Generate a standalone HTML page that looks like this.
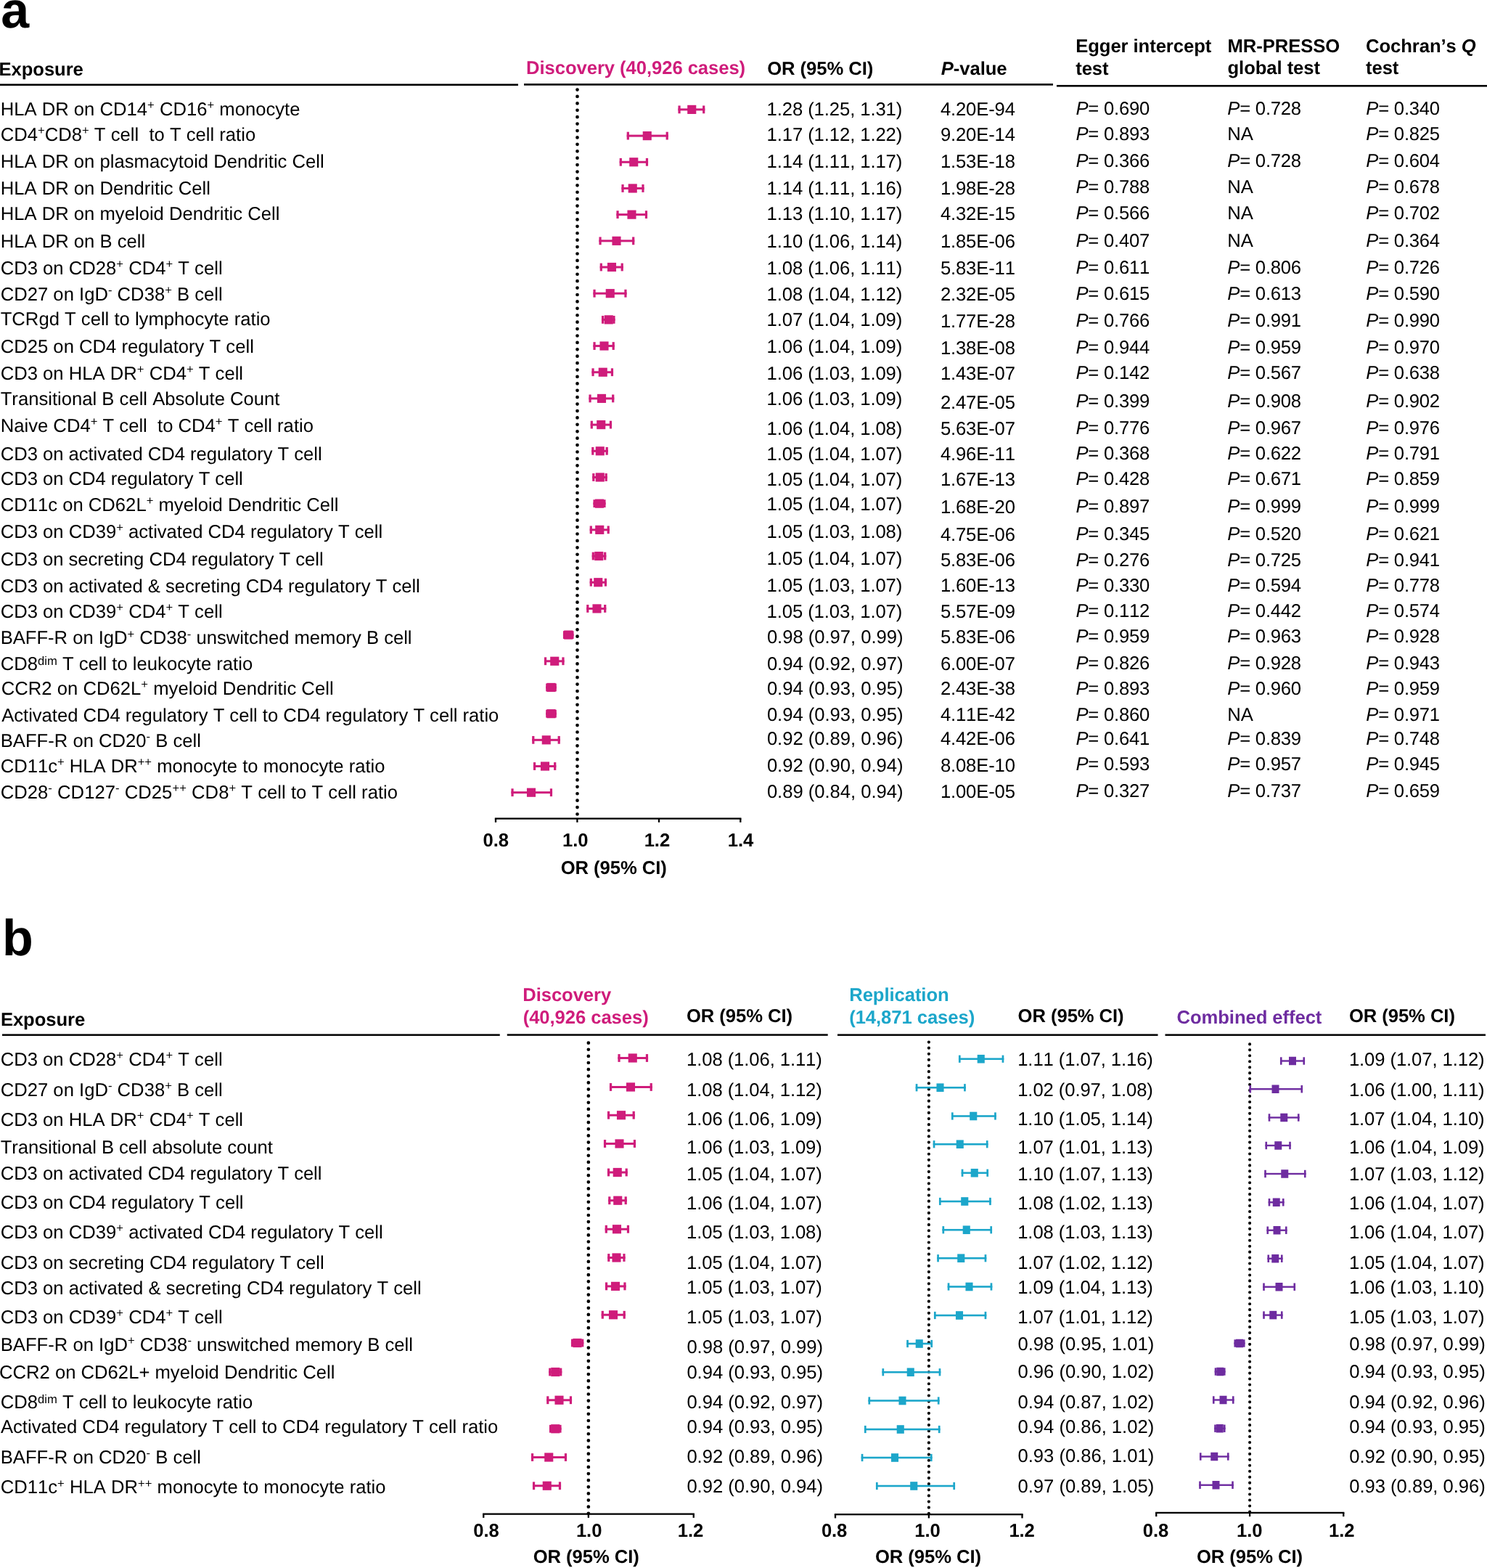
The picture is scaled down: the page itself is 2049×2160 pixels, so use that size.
<!DOCTYPE html>
<html lang="en">
<head>
<meta charset="utf-8">
<title>Forest plots</title>
<style>
html,body{margin:0;padding:0;background:#fff;}
body{width:2049px;height:2160px;overflow:hidden;}
svg{display:block;position:absolute;left:0;top:0;}
text{font-family:"Liberation Sans",sans-serif;font-size:25.65px;fill:#000;white-space:pre;font-kerning:none;text-rendering:geometricPrecision;}
.b{font-weight:bold;letter-spacing:-0.07px;}
.n{letter-spacing:-0.03px;}
.n1{letter-spacing:-0.09px;}
.p{letter-spacing:-0.22px;}
.pv{letter-spacing:-0.15px;}
.i{font-style:italic;}
.bi{font-weight:bold;font-style:italic;}
.sup{font-size:16.67px;}
.big{font-size:70px;font-weight:bold;}
</style>
</head>
<body>
<svg width="2049" height="2160" viewBox="0 0 2049 2160" role="img" aria-label="Forest plots of odds ratios">
<text x="1.20" y="37.50" class="big">a</text>
<text x="-1.50" y="104.00" class="b">Exposure</text>
<text x="725.10" y="102.40" class="b" style="fill:#CF1C7B">Discovery (40,926 cases)</text>
<text x="1057.20" y="103.30" class="b">OR (95% CI)</text>
<text x="1296.8" y="103.3" class="b"><tspan class="bi">P</tspan>-value</text>
<text x="1482.20" y="72.30" class="b">Egger intercept</text>
<text x="1482.20" y="102.70" class="b">test</text>
<text x="1691.50" y="71.80" class="b">MR-PRESSO</text>
<text x="1691.50" y="102.20" class="b">global test</text>
<text x="1882" y="71.5" class="b">Cochran’s <tspan class="bi">Q</tspan></text>
<text x="1882.00" y="101.75" class="b">test</text>
<rect x="0.00" y="115.50" width="714.00" height="2.60" fill="#000"/>
<rect x="722.00" y="115.15" width="729.00" height="2.60" fill="#000"/>
<rect x="1456.00" y="117.00" width="593.00" height="2.60" fill="#000"/>
<text x="0.70" y="158.75">HLA DR on CD14<tspan class="sup" dy="-8.72">+</tspan><tspan dy="8.72"> CD16</tspan><tspan class="sup" dy="-8.72">+</tspan><tspan dy="8.72"> monocyte</tspan></text>
<text x="1056.60" y="159.25" class="n1">1.28 (1.25, 1.31)</text>
<text x="1295.90" y="159.25" class="pv">4.20E-94</text>
<text x="1482.40" y="158.00" class="p"><tspan class="i">P</tspan>= 0.690</text>
<text x="1691.30" y="158.00" class="p"><tspan class="i">P</tspan>= 0.728</text>
<text x="1882.30" y="158.00" class="p"><tspan class="i">P</tspan>= 0.340</text>
<text x="0.70" y="193.75">CD4<tspan class="sup" dy="-8.72">+</tspan><tspan dy="8.72">CD8</tspan><tspan class="sup" dy="-8.72">+</tspan><tspan dy="8.72"> T cell  to T cell ratio</tspan></text>
<text x="1056.60" y="194.25" class="n1">1.17 (1.12, 1.22)</text>
<text x="1295.90" y="194.25" class="pv">9.20E-14</text>
<text x="1482.40" y="193.00" class="p"><tspan class="i">P</tspan>= 0.893</text>
<text x="1691.30" y="193.00">NA</text>
<text x="1882.30" y="193.00" class="p"><tspan class="i">P</tspan>= 0.825</text>
<text x="0.70" y="230.50">HLA DR on plasmacytoid Dendritic Cell</text>
<text x="1056.60" y="231.25" class="n1">1.14 (1.11, 1.17)</text>
<text x="1295.90" y="231.25" class="pv">1.53E-18</text>
<text x="1482.40" y="230.00" class="p"><tspan class="i">P</tspan>= 0.366</text>
<text x="1691.30" y="230.00" class="p"><tspan class="i">P</tspan>= 0.728</text>
<text x="1882.30" y="230.00" class="p"><tspan class="i">P</tspan>= 0.604</text>
<text x="0.70" y="267.50">HLA DR on Dendritic Cell</text>
<text x="1056.60" y="268.00" class="n1">1.14 (1.11, 1.16)</text>
<text x="1295.90" y="267.50" class="pv">1.98E-28</text>
<text x="1482.40" y="266.00" class="p"><tspan class="i">P</tspan>= 0.788</text>
<text x="1691.30" y="266.00">NA</text>
<text x="1882.30" y="266.00" class="p"><tspan class="i">P</tspan>= 0.678</text>
<text x="0.70" y="303.25">HLA DR on myeloid Dendritic Cell</text>
<text x="1056.60" y="303.00" class="n1">1.13 (1.10, 1.17)</text>
<text x="1295.90" y="303.00" class="pv">4.32E-15</text>
<text x="1482.40" y="301.50" class="p"><tspan class="i">P</tspan>= 0.566</text>
<text x="1691.30" y="301.50">NA</text>
<text x="1882.30" y="301.50" class="p"><tspan class="i">P</tspan>= 0.702</text>
<text x="0.70" y="340.50">HLA DR on B cell</text>
<text x="1056.60" y="340.50" class="n1">1.10 (1.06, 1.14)</text>
<text x="1295.90" y="340.50" class="pv">1.85E-06</text>
<text x="1482.40" y="339.75" class="p"><tspan class="i">P</tspan>= 0.407</text>
<text x="1691.30" y="339.75">NA</text>
<text x="1882.30" y="339.75" class="p"><tspan class="i">P</tspan>= 0.364</text>
<text x="0.70" y="377.50">CD3 on CD28<tspan class="sup" dy="-8.72">+</tspan><tspan dy="8.72"> CD4</tspan><tspan class="sup" dy="-8.72">+</tspan><tspan dy="8.72"> T cell</tspan></text>
<text x="1056.60" y="378.00" class="n1">1.08 (1.06, 1.11)</text>
<text x="1295.90" y="378.00" class="pv">5.83E-11</text>
<text x="1482.40" y="376.75" class="p"><tspan class="i">P</tspan>= 0.611</text>
<text x="1691.30" y="376.75" class="p"><tspan class="i">P</tspan>= 0.806</text>
<text x="1882.30" y="376.75" class="p"><tspan class="i">P</tspan>= 0.726</text>
<text x="0.70" y="413.75">CD27 on IgD<tspan class="sup" dy="-8.72">-</tspan><tspan dy="8.72"> CD38</tspan><tspan class="sup" dy="-8.72">+</tspan><tspan dy="8.72"> B cell</tspan></text>
<text x="1056.60" y="414.25" class="n1">1.08 (1.04, 1.12)</text>
<text x="1295.90" y="414.25" class="pv">2.32E-05</text>
<text x="1482.40" y="412.50" class="p"><tspan class="i">P</tspan>= 0.615</text>
<text x="1691.30" y="412.50" class="p"><tspan class="i">P</tspan>= 0.613</text>
<text x="1882.30" y="412.50" class="p"><tspan class="i">P</tspan>= 0.590</text>
<text x="0.70" y="448.25">TCRgd T cell to lymphocyte ratio</text>
<text x="1056.60" y="448.75" class="n1">1.07 (1.04, 1.09)</text>
<text x="1295.90" y="450.50" class="pv">1.77E-28</text>
<text x="1482.40" y="449.50" class="p"><tspan class="i">P</tspan>= 0.766</text>
<text x="1691.30" y="449.50" class="p"><tspan class="i">P</tspan>= 0.991</text>
<text x="1882.30" y="449.50" class="p"><tspan class="i">P</tspan>= 0.990</text>
<text x="0.70" y="485.50">CD25 on CD4 regulatory T cell</text>
<text x="1056.60" y="485.75" class="n1">1.06 (1.04, 1.09)</text>
<text x="1295.90" y="488.00" class="pv">1.38E-08</text>
<text x="1482.40" y="487.25" class="p"><tspan class="i">P</tspan>= 0.944</text>
<text x="1691.30" y="487.25" class="p"><tspan class="i">P</tspan>= 0.959</text>
<text x="1882.30" y="487.25" class="p"><tspan class="i">P</tspan>= 0.970</text>
<text x="0.70" y="523.00">CD3 on HLA DR<tspan class="sup" dy="-8.72">+</tspan><tspan dy="8.72"> CD4</tspan><tspan class="sup" dy="-8.72">+</tspan><tspan dy="8.72"> T cell</tspan></text>
<text x="1056.60" y="522.50" class="n1">1.06 (1.03, 1.09)</text>
<text x="1295.90" y="522.50" class="pv">1.43E-07</text>
<text x="1482.40" y="521.50" class="p"><tspan class="i">P</tspan>= 0.142</text>
<text x="1691.30" y="521.50" class="p"><tspan class="i">P</tspan>= 0.567</text>
<text x="1882.30" y="521.50" class="p"><tspan class="i">P</tspan>= 0.638</text>
<text x="0.70" y="557.50">Transitional B cell Absolute Count</text>
<text x="1056.60" y="558.00" class="n1">1.06 (1.03, 1.09)</text>
<text x="1295.90" y="562.75" class="pv">2.47E-05</text>
<text x="1482.40" y="560.75" class="p"><tspan class="i">P</tspan>= 0.399</text>
<text x="1691.30" y="560.75" class="p"><tspan class="i">P</tspan>= 0.908</text>
<text x="1882.30" y="560.75" class="p"><tspan class="i">P</tspan>= 0.902</text>
<text x="0.70" y="595.00">Naive CD4<tspan class="sup" dy="-8.72">+</tspan><tspan dy="8.72"> T cell  to CD4</tspan><tspan class="sup" dy="-8.72">+</tspan><tspan dy="8.72"> T cell ratio</tspan></text>
<text x="1056.60" y="599.00" class="n1">1.06 (1.04, 1.08)</text>
<text x="1295.90" y="599.00" class="pv">5.63E-07</text>
<text x="1482.40" y="598.00" class="p"><tspan class="i">P</tspan>= 0.776</text>
<text x="1691.30" y="598.00" class="p"><tspan class="i">P</tspan>= 0.967</text>
<text x="1882.30" y="598.00" class="p"><tspan class="i">P</tspan>= 0.976</text>
<text x="0.70" y="633.75" style="letter-spacing:-0.045px">CD3 on activated CD4 regulatory T cell</text>
<text x="1056.60" y="634.00" class="n1">1.05 (1.04, 1.07)</text>
<text x="1295.90" y="634.00" class="pv">4.96E-11</text>
<text x="1482.40" y="633.25" class="p"><tspan class="i">P</tspan>= 0.368</text>
<text x="1691.30" y="633.25" class="p"><tspan class="i">P</tspan>= 0.622</text>
<text x="1882.30" y="633.25" class="p"><tspan class="i">P</tspan>= 0.791</text>
<text x="0.70" y="668.25" style="letter-spacing:-0.030px">CD3 on CD4 regulatory T cell</text>
<text x="1056.60" y="669.00" class="n1">1.05 (1.04, 1.07)</text>
<text x="1295.90" y="669.00" class="pv">1.67E-13</text>
<text x="1482.40" y="668.00" class="p"><tspan class="i">P</tspan>= 0.428</text>
<text x="1691.30" y="668.00" class="p"><tspan class="i">P</tspan>= 0.671</text>
<text x="1882.30" y="668.00" class="p"><tspan class="i">P</tspan>= 0.859</text>
<text x="0.70" y="703.75">CD11c on CD62L<tspan class="sup" dy="-8.72">+</tspan><tspan dy="8.72"> myeloid Dendritic Cell</tspan></text>
<text x="1056.60" y="703.25" class="n1">1.05 (1.04, 1.07)</text>
<text x="1295.90" y="706.50" class="pv">1.68E-20</text>
<text x="1482.40" y="705.50" class="p"><tspan class="i">P</tspan>= 0.897</text>
<text x="1691.30" y="705.50" class="p"><tspan class="i">P</tspan>= 0.999</text>
<text x="1882.30" y="705.50" class="p"><tspan class="i">P</tspan>= 0.999</text>
<text x="0.70" y="740.50" style="letter-spacing:-0.015px">CD3 on CD39<tspan class="sup" dy="-8.72">+</tspan><tspan dy="8.72"> activated CD4 regulatory T cell</tspan></text>
<text x="1056.60" y="740.75" class="n1">1.05 (1.03, 1.08)</text>
<text x="1295.90" y="744.50" class="pv">4.75E-06</text>
<text x="1482.40" y="743.75" class="p"><tspan class="i">P</tspan>= 0.345</text>
<text x="1691.30" y="743.75" class="p"><tspan class="i">P</tspan>= 0.520</text>
<text x="1882.30" y="743.75" class="p"><tspan class="i">P</tspan>= 0.621</text>
<text x="0.70" y="778.50" style="letter-spacing:-0.030px">CD3 on secreting CD4 regulatory T cell</text>
<text x="1056.60" y="777.75" class="n1">1.05 (1.04, 1.07)</text>
<text x="1295.90" y="780.25" class="pv">5.83E-06</text>
<text x="1482.40" y="780.00" class="p"><tspan class="i">P</tspan>= 0.276</text>
<text x="1691.30" y="780.00" class="p"><tspan class="i">P</tspan>= 0.725</text>
<text x="1882.30" y="780.00" class="p"><tspan class="i">P</tspan>= 0.941</text>
<text x="0.70" y="815.50" style="letter-spacing:-0.040px">CD3 on activated &amp; secreting CD4 regulatory T cell</text>
<text x="1056.60" y="815.25" class="n1">1.05 (1.03, 1.07)</text>
<text x="1295.90" y="815.25" class="pv">1.60E-13</text>
<text x="1482.40" y="815.00" class="p"><tspan class="i">P</tspan>= 0.330</text>
<text x="1691.30" y="815.00" class="p"><tspan class="i">P</tspan>= 0.594</text>
<text x="1882.30" y="815.00" class="p"><tspan class="i">P</tspan>= 0.778</text>
<text x="0.70" y="851.00">CD3 on CD39<tspan class="sup" dy="-8.72">+</tspan><tspan dy="8.72"> CD4</tspan><tspan class="sup" dy="-8.72">+</tspan><tspan dy="8.72"> T cell</tspan></text>
<text x="1056.60" y="850.75" class="n1">1.05 (1.03, 1.07)</text>
<text x="1295.90" y="850.75" class="pv">5.57E-09</text>
<text x="1482.40" y="850.00" class="p"><tspan class="i">P</tspan>= 0.112</text>
<text x="1691.30" y="850.00" class="p"><tspan class="i">P</tspan>= 0.442</text>
<text x="1882.30" y="850.00" class="p"><tspan class="i">P</tspan>= 0.574</text>
<text x="0.70" y="887.45" style="letter-spacing:-0.030px">BAFF-R on IgD<tspan class="sup" dy="-8.72">+</tspan><tspan dy="8.72"> CD38</tspan><tspan class="sup" dy="-8.72">-</tspan><tspan dy="8.72"> unswitched memory B cell</tspan></text>
<text x="1056.90" y="885.75" class="n">0.98 (0.97, 0.99)</text>
<text x="1295.90" y="885.75" class="pv">5.83E-06</text>
<text x="1482.40" y="885.00" class="p"><tspan class="i">P</tspan>= 0.959</text>
<text x="1691.30" y="885.00" class="p"><tspan class="i">P</tspan>= 0.963</text>
<text x="1882.30" y="885.00" class="p"><tspan class="i">P</tspan>= 0.928</text>
<text x="0.70" y="923.00">CD8<tspan class="sup" dy="-6.80">dim</tspan><tspan dy="6.80"> T cell to leukocyte ratio</tspan></text>
<text x="1056.90" y="922.75" class="n">0.94 (0.92, 0.97)</text>
<text x="1295.90" y="922.75" class="pv">6.00E-07</text>
<text x="1482.40" y="922.00" class="p"><tspan class="i">P</tspan>= 0.826</text>
<text x="1691.30" y="922.00" class="p"><tspan class="i">P</tspan>= 0.928</text>
<text x="1882.30" y="922.00" class="p"><tspan class="i">P</tspan>= 0.943</text>
<text x="1.70" y="956.75" style="letter-spacing:0.020px">CCR2 on CD62L<tspan class="sup" dy="-8.72">+</tspan><tspan dy="8.72"> myeloid Dendritic Cell</tspan></text>
<text x="1056.90" y="956.50" class="n">0.94 (0.93, 0.95)</text>
<text x="1295.90" y="956.50" class="pv">2.43E-38</text>
<text x="1482.40" y="957.00" class="p"><tspan class="i">P</tspan>= 0.893</text>
<text x="1691.30" y="957.00" class="p"><tspan class="i">P</tspan>= 0.960</text>
<text x="1882.30" y="957.00" class="p"><tspan class="i">P</tspan>= 0.959</text>
<text x="2.20" y="994.00" style="letter-spacing:-0.028px">Activated CD4 regulatory T cell to CD4 regulatory T cell ratio</text>
<text x="1056.90" y="993.25" class="n">0.94 (0.93, 0.95)</text>
<text x="1295.90" y="993.25" class="pv">4.11E-42</text>
<text x="1482.40" y="992.50" class="p"><tspan class="i">P</tspan>= 0.860</text>
<text x="1691.30" y="992.50">NA</text>
<text x="1882.30" y="992.50" class="p"><tspan class="i">P</tspan>= 0.971</text>
<text x="0.70" y="1029.00">BAFF-R on CD20<tspan class="sup" dy="-8.72">-</tspan><tspan dy="8.72"> B cell</tspan></text>
<text x="1056.90" y="1026.25" class="n">0.92 (0.89, 0.96)</text>
<text x="1295.90" y="1026.25" class="pv">4.42E-06</text>
<text x="1482.40" y="1025.50" class="p"><tspan class="i">P</tspan>= 0.641</text>
<text x="1691.30" y="1025.50" class="p"><tspan class="i">P</tspan>= 0.839</text>
<text x="1882.30" y="1025.50" class="p"><tspan class="i">P</tspan>= 0.748</text>
<text x="0.70" y="1063.70" style="letter-spacing:-0.025px">CD11c<tspan class="sup" dy="-8.72">+</tspan><tspan dy="8.72"> HLA DR</tspan><tspan class="sup" dy="-8.72">++</tspan><tspan dy="8.72"> monocyte to monocyte ratio</tspan></text>
<text x="1056.90" y="1062.50" class="n">0.92 (0.90, 0.94)</text>
<text x="1295.90" y="1062.50" class="pv">8.08E-10</text>
<text x="1482.40" y="1061.25" class="p"><tspan class="i">P</tspan>= 0.593</text>
<text x="1691.30" y="1061.25" class="p"><tspan class="i">P</tspan>= 0.957</text>
<text x="1882.30" y="1061.25" class="p"><tspan class="i">P</tspan>= 0.945</text>
<text x="0.70" y="1099.95" style="letter-spacing:0.025px">CD28<tspan class="sup" dy="-8.72">-</tspan><tspan dy="8.72"> CD127</tspan><tspan class="sup" dy="-8.72">-</tspan><tspan dy="8.72"> CD25</tspan><tspan class="sup" dy="-8.72">++</tspan><tspan dy="8.72"> CD8</tspan><tspan class="sup" dy="-8.72">+</tspan><tspan dy="8.72"> T cell to T cell ratio</tspan></text>
<text x="1056.90" y="1098.75" class="n">0.89 (0.84, 0.94)</text>
<text x="1295.90" y="1098.75" class="pv">1.00E-05</text>
<text x="1482.40" y="1098.25" class="p"><tspan class="i">P</tspan>= 0.327</text>
<text x="1691.30" y="1098.25" class="p"><tspan class="i">P</tspan>= 0.737</text>
<text x="1882.30" y="1098.25" class="p"><tspan class="i">P</tspan>= 0.659</text>
<line x1="795.50" y1="123.55" x2="795.50" y2="1121.51" stroke="#000" stroke-width="4.70" stroke-linecap="round" stroke-dasharray="0 9.4146"/>
<g fill="#CF1C7B"><rect x="934.45" y="149.40" width="36.85" height="3.00"/><rect x="934.45" y="145.50" width="3.20" height="10.80"/><rect x="968.10" y="145.50" width="3.20" height="10.80"/><rect x="947.20" y="144.80" width="12.10" height="12.20"/></g>
<g fill="#CF1C7B"><rect x="863.70" y="185.59" width="57.10" height="3.00"/><rect x="863.70" y="181.69" width="3.20" height="10.80"/><rect x="917.60" y="181.69" width="3.20" height="10.80"/><rect x="885.70" y="180.99" width="12.10" height="12.20"/></g>
<g fill="#CF1C7B"><rect x="853.70" y="221.77" width="39.35" height="3.00"/><rect x="853.70" y="217.87" width="3.20" height="10.80"/><rect x="889.85" y="217.87" width="3.20" height="10.80"/><rect x="867.20" y="217.17" width="12.10" height="12.20"/></g>
<g fill="#CF1C7B"><rect x="856.45" y="257.96" width="31.10" height="3.00"/><rect x="856.45" y="254.06" width="3.20" height="10.80"/><rect x="884.35" y="254.06" width="3.20" height="10.80"/><rect x="865.70" y="253.36" width="12.10" height="12.20"/></g>
<g fill="#CF1C7B"><rect x="849.45" y="294.14" width="42.60" height="3.00"/><rect x="849.45" y="290.24" width="3.20" height="10.80"/><rect x="888.85" y="290.24" width="3.20" height="10.80"/><rect x="864.45" y="289.54" width="12.10" height="12.20"/></g>
<g fill="#CF1C7B"><rect x="825.45" y="330.33" width="48.85" height="3.00"/><rect x="825.45" y="326.43" width="3.20" height="10.80"/><rect x="871.10" y="326.43" width="3.20" height="10.80"/><rect x="843.45" y="325.73" width="12.10" height="12.20"/></g>
<g fill="#CF1C7B"><rect x="826.70" y="366.51" width="32.10" height="3.00"/><rect x="826.70" y="362.61" width="3.20" height="10.80"/><rect x="855.60" y="362.61" width="3.20" height="10.80"/><rect x="836.95" y="361.91" width="12.10" height="12.20"/></g>
<g fill="#CF1C7B"><rect x="817.45" y="402.70" width="46.10" height="3.00"/><rect x="817.45" y="398.80" width="3.20" height="10.80"/><rect x="860.35" y="398.80" width="3.20" height="10.80"/><rect x="834.70" y="398.10" width="12.10" height="12.20"/></g>
<g fill="#CF1C7B"><rect x="828.95" y="438.88" width="18.60" height="3.00"/><rect x="828.95" y="434.98" width="3.20" height="10.80"/><rect x="844.35" y="434.98" width="3.20" height="10.80"/><rect x="832.70" y="434.28" width="12.10" height="12.20"/></g>
<g fill="#CF1C7B"><rect x="817.45" y="475.07" width="29.35" height="3.00"/><rect x="817.45" y="471.17" width="3.20" height="10.80"/><rect x="843.60" y="471.17" width="3.20" height="10.80"/><rect x="826.45" y="470.47" width="12.10" height="12.20"/></g>
<g fill="#CF1C7B"><rect x="815.45" y="511.25" width="29.60" height="3.00"/><rect x="815.45" y="507.35" width="3.20" height="10.80"/><rect x="841.85" y="507.35" width="3.20" height="10.80"/><rect x="824.70" y="506.65" width="12.10" height="12.20"/></g>
<g fill="#CF1C7B"><rect x="811.45" y="547.44" width="34.85" height="3.00"/><rect x="811.45" y="543.54" width="3.20" height="10.80"/><rect x="843.10" y="543.54" width="3.20" height="10.80"/><rect x="822.95" y="542.84" width="12.10" height="12.20"/></g>
<g fill="#CF1C7B"><rect x="813.70" y="583.62" width="29.35" height="3.00"/><rect x="813.70" y="579.72" width="3.20" height="10.80"/><rect x="839.85" y="579.72" width="3.20" height="10.80"/><rect x="822.20" y="579.02" width="12.10" height="12.20"/></g>
<g fill="#CF1C7B"><rect x="815.20" y="619.81" width="22.60" height="3.00"/><rect x="815.20" y="615.91" width="3.20" height="10.80"/><rect x="834.60" y="615.91" width="3.20" height="10.80"/><rect x="820.70" y="615.21" width="12.10" height="12.20"/></g>
<g fill="#CF1C7B"><rect x="816.20" y="655.99" width="20.60" height="3.00"/><rect x="816.20" y="652.09" width="3.20" height="10.80"/><rect x="833.60" y="652.09" width="3.20" height="10.80"/><rect x="820.70" y="651.39" width="12.10" height="12.20"/></g>
<g fill="#CF1C7B"><rect x="817.45" y="692.18" width="17.10" height="3.00"/><rect x="817.45" y="688.28" width="3.20" height="10.80"/><rect x="831.35" y="688.28" width="3.20" height="10.80"/><rect x="819.95" y="687.58" width="12.10" height="12.20"/></g>
<g fill="#CF1C7B"><rect x="812.70" y="728.36" width="27.10" height="3.00"/><rect x="812.70" y="724.46" width="3.20" height="10.80"/><rect x="836.60" y="724.46" width="3.20" height="10.80"/><rect x="820.20" y="723.76" width="12.10" height="12.20"/></g>
<g fill="#CF1C7B"><rect x="815.70" y="764.54" width="19.60" height="3.00"/><rect x="815.70" y="760.64" width="3.20" height="10.80"/><rect x="832.10" y="760.64" width="3.20" height="10.80"/><rect x="819.20" y="759.94" width="12.10" height="12.20"/></g>
<g fill="#CF1C7B"><rect x="812.70" y="800.73" width="23.35" height="3.00"/><rect x="812.70" y="796.83" width="3.20" height="10.80"/><rect x="832.85" y="796.83" width="3.20" height="10.80"/><rect x="818.20" y="796.13" width="12.10" height="12.20"/></g>
<g fill="#CF1C7B"><rect x="808.20" y="836.92" width="27.10" height="3.00"/><rect x="808.20" y="833.02" width="3.20" height="10.80"/><rect x="832.10" y="833.02" width="3.20" height="10.80"/><rect x="816.45" y="832.32" width="12.10" height="12.20"/></g>
<g fill="#CF1C7B"><rect x="775.95" y="873.10" width="14.60" height="3.00"/><rect x="775.95" y="869.20" width="3.20" height="10.80"/><rect x="787.35" y="869.20" width="3.20" height="10.80"/><rect x="777.20" y="868.50" width="12.10" height="12.20"/></g>
<g fill="#CF1C7B"><rect x="749.95" y="909.28" width="27.60" height="3.00"/><rect x="749.95" y="905.38" width="3.20" height="10.80"/><rect x="774.35" y="905.38" width="3.20" height="10.80"/><rect x="758.20" y="904.68" width="12.10" height="12.20"/></g>
<g fill="#CF1C7B"><rect x="752.20" y="945.47" width="14.60" height="3.00"/><rect x="752.20" y="941.57" width="3.20" height="10.80"/><rect x="763.60" y="941.57" width="3.20" height="10.80"/><rect x="753.45" y="940.87" width="12.10" height="12.20"/></g>
<g fill="#CF1C7B"><rect x="752.20" y="981.66" width="14.60" height="3.00"/><rect x="752.20" y="977.76" width="3.20" height="10.80"/><rect x="763.60" y="977.76" width="3.20" height="10.80"/><rect x="753.45" y="977.06" width="12.10" height="12.20"/></g>
<g fill="#CF1C7B"><rect x="733.20" y="1017.84" width="38.60" height="3.00"/><rect x="733.20" y="1013.94" width="3.20" height="10.80"/><rect x="768.60" y="1013.94" width="3.20" height="10.80"/><rect x="746.70" y="1013.24" width="12.10" height="12.20"/></g>
<g fill="#CF1C7B"><rect x="734.95" y="1054.03" width="31.35" height="3.00"/><rect x="734.95" y="1050.12" width="3.20" height="10.80"/><rect x="763.10" y="1050.12" width="3.20" height="10.80"/><rect x="744.95" y="1049.43" width="12.10" height="12.20"/></g>
<g fill="#CF1C7B"><rect x="704.45" y="1090.21" width="56.60" height="3.00"/><rect x="704.45" y="1086.31" width="3.20" height="10.80"/><rect x="757.85" y="1086.31" width="3.20" height="10.80"/><rect x="725.95" y="1085.61" width="12.10" height="12.20"/></g>
<rect x="681.85" y="1126.50" width="339.60" height="2.30" fill="#000"/>
<rect x="681.85" y="1127.65" width="2.30" height="5.20" fill="#000"/>
<text x="683.20" y="1166.10" class="b" text-anchor="middle">0.8</text>
<rect x="794.25" y="1127.65" width="2.30" height="5.20" fill="#000"/>
<text x="792.80" y="1166.10" class="b" text-anchor="middle">1.0</text>
<rect x="906.85" y="1127.65" width="2.30" height="5.20" fill="#000"/>
<text x="905.40" y="1166.10" class="b" text-anchor="middle">1.2</text>
<rect x="1019.15" y="1127.65" width="2.30" height="5.20" fill="#000"/>
<text x="1020.50" y="1166.10" class="b" text-anchor="middle">1.4</text>
<text x="845.70" y="1203.75" class="b" text-anchor="middle">OR (95% CI)</text>
<text x="2.90" y="1316.40" class="big">b</text>
<text x="0.90" y="1412.50" class="b">Exposure</text>
<text x="720.20" y="1378.75" class="b" style="fill:#CF1C7B">Discovery</text>
<text x="720.70" y="1409.50" class="b" style="fill:#CF1C7B">(40,926 cases)</text>
<text x="946.00" y="1407.50" class="b">OR (95% CI)</text>
<text x="1170.20" y="1378.75" class="b" style="fill:#1CA6CA">Replication</text>
<text x="1170.20" y="1409.50" class="b" style="fill:#1CA6CA">(14,871 cases)</text>
<text x="1402.60" y="1407.50" class="b">OR (95% CI)</text>
<text x="1621.50" y="1409.50" class="b" style="fill:#6E2CA0">Combined effect</text>
<text x="1858.90" y="1407.50" class="b">OR (95% CI)</text>
<rect x="3.00" y="1424.45" width="685.75" height="2.50" fill="#000"/>
<rect x="698.75" y="1424.35" width="441.95" height="2.50" fill="#000"/>
<rect x="1154.00" y="1424.45" width="441.50" height="2.50" fill="#000"/>
<rect x="1605.50" y="1424.45" width="441.50" height="2.50" fill="#000"/>
<text x="0.70" y="1467.50">CD3 on CD28<tspan class="sup" dy="-8.72">+</tspan><tspan dy="8.72"> CD4</tspan><tspan class="sup" dy="-8.72">+</tspan><tspan dy="8.72"> T cell</tspan></text>
<text x="946.10" y="1467.50" class="n1">1.08 (1.06, 1.11)</text>
<text x="1402.20" y="1467.50" class="n1">1.11 (1.07, 1.16)</text>
<text x="1858.90" y="1467.50" class="n1">1.09 (1.07, 1.12)</text>
<text x="0.70" y="1509.50">CD27 on IgD<tspan class="sup" dy="-8.72">-</tspan><tspan dy="8.72"> CD38</tspan><tspan class="sup" dy="-8.72">+</tspan><tspan dy="8.72"> B cell</tspan></text>
<text x="946.10" y="1510.00" class="n1">1.08 (1.04, 1.12)</text>
<text x="1402.20" y="1510.00" class="n1">1.02 (0.97, 1.08)</text>
<text x="1858.90" y="1510.00" class="n1">1.06 (1.00, 1.11)</text>
<text x="0.70" y="1550.75">CD3 on HLA DR<tspan class="sup" dy="-8.72">+</tspan><tspan dy="8.72"> CD4</tspan><tspan class="sup" dy="-8.72">+</tspan><tspan dy="8.72"> T cell</tspan></text>
<text x="946.10" y="1550.00" class="n1">1.06 (1.06, 1.09)</text>
<text x="1402.20" y="1550.00" class="n1">1.10 (1.05, 1.14)</text>
<text x="1858.90" y="1550.00" class="n1">1.07 (1.04, 1.10)</text>
<text x="0.70" y="1588.75" style="letter-spacing:-0.035px">Transitional B cell absolute count</text>
<text x="946.10" y="1588.75" class="n1">1.06 (1.03, 1.09)</text>
<text x="1402.20" y="1588.75" class="n1">1.07 (1.01, 1.13)</text>
<text x="1858.90" y="1588.75" class="n1">1.06 (1.04, 1.09)</text>
<text x="0.70" y="1625.00" style="letter-spacing:-0.050px">CD3 on activated CD4 regulatory T cell</text>
<text x="946.10" y="1625.75" class="n1">1.05 (1.04, 1.07)</text>
<text x="1402.20" y="1625.75" class="n1">1.10 (1.07, 1.13)</text>
<text x="1858.90" y="1625.75" class="n1">1.07 (1.03, 1.12)</text>
<text x="0.70" y="1665.00">CD3 on CD4 regulatory T cell</text>
<text x="946.10" y="1665.50" class="n1">1.06 (1.04, 1.07)</text>
<text x="1402.20" y="1665.50" class="n1">1.08 (1.02, 1.13)</text>
<text x="1858.90" y="1665.50" class="n1">1.06 (1.04, 1.07)</text>
<text x="0.70" y="1705.50">CD3 on CD39<tspan class="sup" dy="-8.72">+</tspan><tspan dy="8.72"> activated CD4 regulatory T cell</tspan></text>
<text x="946.10" y="1705.50" class="n1">1.05 (1.03, 1.08)</text>
<text x="1402.20" y="1705.50" class="n1">1.08 (1.03, 1.13)</text>
<text x="1858.90" y="1705.50" class="n1">1.06 (1.04, 1.07)</text>
<text x="0.70" y="1747.50">CD3 on secreting CD4 regulatory T cell</text>
<text x="946.10" y="1747.50" class="n1">1.05 (1.04, 1.07)</text>
<text x="1402.20" y="1747.50" class="n1">1.07 (1.02, 1.12)</text>
<text x="1858.90" y="1747.50" class="n1">1.05 (1.04, 1.07)</text>
<text x="0.70" y="1782.50">CD3 on activated &amp; secreting CD4 regulatory T cell</text>
<text x="946.10" y="1782.25" class="n1">1.05 (1.03, 1.07)</text>
<text x="1402.20" y="1782.25" class="n1">1.09 (1.04, 1.13)</text>
<text x="1858.90" y="1782.25" class="n1">1.06 (1.03, 1.10)</text>
<text x="0.70" y="1823.00">CD3 on CD39<tspan class="sup" dy="-8.72">+</tspan><tspan dy="8.72"> CD4</tspan><tspan class="sup" dy="-8.72">+</tspan><tspan dy="8.72"> T cell</tspan></text>
<text x="946.10" y="1822.50" class="n1">1.05 (1.03, 1.07)</text>
<text x="1402.20" y="1822.50" class="n1">1.07 (1.01, 1.12)</text>
<text x="1858.90" y="1822.50" class="n1">1.05 (1.03, 1.07)</text>
<text x="0.70" y="1860.50">BAFF-R on IgD<tspan class="sup" dy="-8.72">+</tspan><tspan dy="8.72"> CD38</tspan><tspan class="sup" dy="-8.72">-</tspan><tspan dy="8.72"> unswitched memory B cell</tspan></text>
<text x="946.40" y="1863.75" class="n">0.98 (0.97, 0.99)</text>
<text x="1402.50" y="1860.00" class="n">0.98 (0.95, 1.01)</text>
<text x="1859.20" y="1860.00" class="n">0.98 (0.97, 0.99)</text>
<text x="-1.00" y="1898.75">CCR2 on CD62L+ myeloid Dendritic Cell</text>
<text x="946.40" y="1898.75" class="n">0.94 (0.93, 0.95)</text>
<text x="1402.50" y="1898.00" class="n">0.96 (0.90, 1.02)</text>
<text x="1859.20" y="1898.00" class="n">0.94 (0.93, 0.95)</text>
<text x="0.70" y="1939.50">CD8<tspan class="sup" dy="-6.80">dim</tspan><tspan dy="6.80"> T cell to leukocyte ratio</tspan></text>
<text x="946.40" y="1939.50" class="n">0.94 (0.92, 0.97)</text>
<text x="1402.50" y="1939.50" class="n">0.94 (0.87, 1.02)</text>
<text x="1859.20" y="1939.50" class="n">0.94 (0.92, 0.96)</text>
<text x="1.00" y="1973.85" style="letter-spacing:-0.028px">Activated CD4 regulatory T cell to CD4 regulatory T cell ratio</text>
<text x="946.40" y="1973.75" class="n">0.94 (0.93, 0.95)</text>
<text x="1402.50" y="1973.75" class="n">0.94 (0.86, 1.02)</text>
<text x="1859.20" y="1973.75" class="n">0.94 (0.93, 0.95)</text>
<text x="0.70" y="2015.60">BAFF-R on CD20<tspan class="sup" dy="-8.72">-</tspan><tspan dy="8.72"> B cell</tspan></text>
<text x="946.40" y="2015.00" class="n">0.92 (0.89, 0.96)</text>
<text x="1402.50" y="2013.75" class="n">0.93 (0.86, 1.01)</text>
<text x="1859.20" y="2015.00" class="n">0.92 (0.90, 0.95)</text>
<text x="0.70" y="2057.35">CD11c<tspan class="sup" dy="-8.72">+</tspan><tspan dy="8.72"> HLA DR</tspan><tspan class="sup" dy="-8.72">++</tspan><tspan dy="8.72"> monocyte to monocyte ratio</tspan></text>
<text x="946.40" y="2056.25" class="n">0.92 (0.90, 0.94)</text>
<text x="1402.50" y="2056.25" class="n">0.97 (0.89, 1.05)</text>
<text x="1859.20" y="2056.25" class="n">0.93 (0.89, 0.96)</text>
<line x1="810.85" y1="1436.63" x2="810.85" y2="2084.81" stroke="#000" stroke-width="4.70" stroke-linecap="round" stroke-dasharray="0 9.1292"/>
<g fill="#CF1C7B"><rect x="851.45" y="1456.00" width="41.60" height="3.00"/><rect x="851.45" y="1452.10" width="3.20" height="10.80"/><rect x="889.85" y="1452.10" width="3.20" height="10.80"/><rect x="865.70" y="1451.40" width="12.10" height="12.20"/></g>
<g fill="#CF1C7B"><rect x="839.95" y="1496.00" width="58.85" height="3.00"/><rect x="839.95" y="1492.10" width="3.20" height="10.80"/><rect x="895.60" y="1492.10" width="3.20" height="10.80"/><rect x="862.95" y="1491.40" width="12.10" height="12.20"/></g>
<g fill="#CF1C7B"><rect x="836.95" y="1534.75" width="37.85" height="3.00"/><rect x="836.95" y="1530.85" width="3.20" height="10.80"/><rect x="871.60" y="1530.85" width="3.20" height="10.80"/><rect x="849.95" y="1530.15" width="12.10" height="12.20"/></g>
<g fill="#CF1C7B"><rect x="831.95" y="1574.00" width="44.10" height="3.00"/><rect x="831.95" y="1570.10" width="3.20" height="10.80"/><rect x="872.85" y="1570.10" width="3.20" height="10.80"/><rect x="847.45" y="1569.40" width="12.10" height="12.20"/></g>
<g fill="#CF1C7B"><rect x="836.95" y="1613.50" width="27.85" height="3.00"/><rect x="836.95" y="1609.60" width="3.20" height="10.80"/><rect x="861.60" y="1609.60" width="3.20" height="10.80"/><rect x="844.70" y="1608.90" width="12.10" height="12.20"/></g>
<g fill="#CF1C7B"><rect x="838.20" y="1652.25" width="25.60" height="3.00"/><rect x="838.20" y="1648.35" width="3.20" height="10.80"/><rect x="860.60" y="1648.35" width="3.20" height="10.80"/><rect x="845.20" y="1647.65" width="12.10" height="12.20"/></g>
<g fill="#CF1C7B"><rect x="833.70" y="1691.75" width="33.35" height="3.00"/><rect x="833.70" y="1687.85" width="3.20" height="10.80"/><rect x="863.85" y="1687.85" width="3.20" height="10.80"/><rect x="843.95" y="1687.15" width="12.10" height="12.20"/></g>
<g fill="#CF1C7B"><rect x="837.20" y="1731.00" width="24.35" height="3.00"/><rect x="837.20" y="1727.10" width="3.20" height="10.80"/><rect x="858.35" y="1727.10" width="3.20" height="10.80"/><rect x="843.45" y="1726.40" width="12.10" height="12.20"/></g>
<g fill="#CF1C7B"><rect x="833.95" y="1770.40" width="28.60" height="3.00"/><rect x="833.95" y="1766.50" width="3.20" height="10.80"/><rect x="859.35" y="1766.50" width="3.20" height="10.80"/><rect x="841.95" y="1765.80" width="12.10" height="12.20"/></g>
<g fill="#CF1C7B"><rect x="828.70" y="1809.75" width="33.10" height="3.00"/><rect x="828.70" y="1805.85" width="3.20" height="10.80"/><rect x="858.60" y="1805.85" width="3.20" height="10.80"/><rect x="838.95" y="1805.15" width="12.10" height="12.20"/></g>
<g fill="#CF1C7B"><rect x="786.95" y="1848.50" width="17.35" height="3.00"/><rect x="786.95" y="1844.60" width="3.20" height="10.80"/><rect x="801.10" y="1844.60" width="3.20" height="10.80"/><rect x="789.45" y="1843.90" width="12.10" height="12.20"/></g>
<g fill="#CF1C7B"><rect x="756.20" y="1888.50" width="18.10" height="3.00"/><rect x="756.20" y="1884.60" width="3.20" height="10.80"/><rect x="771.10" y="1884.60" width="3.20" height="10.80"/><rect x="759.20" y="1883.90" width="12.10" height="12.20"/></g>
<g fill="#CF1C7B"><rect x="753.20" y="1927.25" width="34.85" height="3.00"/><rect x="753.20" y="1923.35" width="3.20" height="10.80"/><rect x="784.85" y="1923.35" width="3.20" height="10.80"/><rect x="764.45" y="1922.65" width="12.10" height="12.20"/></g>
<g fill="#CF1C7B"><rect x="756.95" y="1966.75" width="16.60" height="3.00"/><rect x="756.95" y="1962.85" width="3.20" height="10.80"/><rect x="770.35" y="1962.85" width="3.20" height="10.80"/><rect x="759.20" y="1962.15" width="12.10" height="12.20"/></g>
<g fill="#CF1C7B"><rect x="731.95" y="2006.00" width="49.10" height="3.00"/><rect x="731.95" y="2002.10" width="3.20" height="10.80"/><rect x="777.85" y="2002.10" width="3.20" height="10.80"/><rect x="750.20" y="2001.40" width="12.10" height="12.20"/></g>
<g fill="#CF1C7B"><rect x="733.95" y="2045.25" width="39.10" height="3.00"/><rect x="733.95" y="2041.35" width="3.20" height="10.80"/><rect x="769.85" y="2041.35" width="3.20" height="10.80"/><rect x="747.70" y="2040.65" width="12.10" height="12.20"/></g>
<rect x="665.10" y="2084.48" width="291.80" height="2.30" fill="#000"/>
<rect x="665.10" y="2085.63" width="2.30" height="5.20" fill="#000"/>
<text x="670.05" y="2116.65" class="b" text-anchor="middle">0.8</text>
<rect x="809.70" y="2085.63" width="2.30" height="5.20" fill="#000"/>
<text x="811.65" y="2116.65" class="b" text-anchor="middle">1.0</text>
<rect x="954.60" y="2085.63" width="2.30" height="5.20" fill="#000"/>
<text x="951.55" y="2116.65" class="b" text-anchor="middle">1.2</text>
<text x="807.70" y="2153.10" class="b" text-anchor="middle">OR (95% CI)</text>
<line x1="1279.87" y1="1435.57" x2="1279.87" y2="2084.79" stroke="#000" stroke-width="4.20" stroke-linecap="round" stroke-dasharray="0 8.1151"/>
<g fill="#1CA6CA"><rect x="1320.95" y="1457.45" width="62.35" height="2.60"/><rect x="1320.95" y="1453.65" width="2.70" height="10.20"/><rect x="1380.60" y="1453.65" width="2.70" height="10.20"/><rect x="1346.70" y="1452.95" width="10.10" height="11.60"/></g>
<g fill="#1CA6CA"><rect x="1261.70" y="1496.95" width="69.10" height="2.60"/><rect x="1261.70" y="1493.15" width="2.70" height="10.20"/><rect x="1328.10" y="1493.15" width="2.70" height="10.20"/><rect x="1290.45" y="1492.45" width="10.10" height="11.60"/></g>
<g fill="#1CA6CA"><rect x="1310.95" y="1536.20" width="61.85" height="2.60"/><rect x="1310.95" y="1532.40" width="2.70" height="10.20"/><rect x="1370.10" y="1532.40" width="2.70" height="10.20"/><rect x="1336.20" y="1531.70" width="10.10" height="11.60"/></g>
<g fill="#1CA6CA"><rect x="1285.70" y="1574.95" width="75.85" height="2.60"/><rect x="1285.70" y="1571.15" width="2.70" height="10.20"/><rect x="1358.85" y="1571.15" width="2.70" height="10.20"/><rect x="1317.70" y="1570.45" width="10.10" height="11.60"/></g>
<g fill="#1CA6CA"><rect x="1324.70" y="1614.45" width="37.35" height="2.60"/><rect x="1324.70" y="1610.65" width="2.70" height="10.20"/><rect x="1359.35" y="1610.65" width="2.70" height="10.20"/><rect x="1337.70" y="1609.95" width="10.10" height="11.60"/></g>
<g fill="#1CA6CA"><rect x="1293.95" y="1653.70" width="71.85" height="2.60"/><rect x="1293.95" y="1649.90" width="2.70" height="10.20"/><rect x="1363.10" y="1649.90" width="2.70" height="10.20"/><rect x="1324.20" y="1649.20" width="10.10" height="11.60"/></g>
<g fill="#1CA6CA"><rect x="1298.45" y="1692.95" width="68.60" height="2.60"/><rect x="1298.45" y="1689.15" width="2.70" height="10.20"/><rect x="1364.35" y="1689.15" width="2.70" height="10.20"/><rect x="1326.70" y="1688.45" width="10.10" height="11.60"/></g>
<g fill="#1CA6CA"><rect x="1291.20" y="1731.95" width="68.10" height="2.60"/><rect x="1291.20" y="1728.15" width="2.70" height="10.20"/><rect x="1356.60" y="1728.15" width="2.70" height="10.20"/><rect x="1319.20" y="1727.45" width="10.10" height="11.60"/></g>
<g fill="#1CA6CA"><rect x="1305.70" y="1771.20" width="61.60" height="2.60"/><rect x="1305.70" y="1767.40" width="2.70" height="10.20"/><rect x="1364.60" y="1767.40" width="2.70" height="10.20"/><rect x="1330.45" y="1766.70" width="10.10" height="11.60"/></g>
<g fill="#1CA6CA"><rect x="1286.95" y="1810.70" width="72.35" height="2.60"/><rect x="1286.95" y="1806.90" width="2.70" height="10.20"/><rect x="1356.60" y="1806.90" width="2.70" height="10.20"/><rect x="1316.95" y="1806.20" width="10.10" height="11.60"/></g>
<g fill="#1CA6CA"><rect x="1249.20" y="1849.70" width="35.85" height="2.60"/><rect x="1249.20" y="1845.90" width="2.70" height="10.20"/><rect x="1282.35" y="1845.90" width="2.70" height="10.20"/><rect x="1261.70" y="1845.20" width="10.10" height="11.60"/></g>
<g fill="#1CA6CA"><rect x="1215.45" y="1888.95" width="80.85" height="2.60"/><rect x="1215.45" y="1885.15" width="2.70" height="10.20"/><rect x="1293.60" y="1885.15" width="2.70" height="10.20"/><rect x="1249.70" y="1884.45" width="10.10" height="11.60"/></g>
<g fill="#1CA6CA"><rect x="1196.45" y="1928.20" width="98.10" height="2.60"/><rect x="1196.45" y="1924.40" width="2.70" height="10.20"/><rect x="1291.85" y="1924.40" width="2.70" height="10.20"/><rect x="1238.45" y="1923.70" width="10.10" height="11.60"/></g>
<g fill="#1CA6CA"><rect x="1190.95" y="1967.70" width="104.60" height="2.60"/><rect x="1190.95" y="1963.90" width="2.70" height="10.20"/><rect x="1292.85" y="1963.90" width="2.70" height="10.20"/><rect x="1235.70" y="1963.20" width="10.10" height="11.60"/></g>
<g fill="#1CA6CA"><rect x="1186.70" y="2006.70" width="97.85" height="2.60"/><rect x="1186.70" y="2002.90" width="2.70" height="10.20"/><rect x="1281.85" y="2002.90" width="2.70" height="10.20"/><rect x="1227.95" y="2002.20" width="10.10" height="11.60"/></g>
<g fill="#1CA6CA"><rect x="1206.95" y="2045.70" width="109.10" height="2.60"/><rect x="1206.95" y="2041.90" width="2.70" height="10.20"/><rect x="1313.35" y="2041.90" width="2.70" height="10.20"/><rect x="1254.20" y="2041.20" width="10.10" height="11.60"/></g>
<rect x="1149.85" y="2085.05" width="259.80" height="2.30" fill="#000"/>
<rect x="1149.85" y="2086.20" width="2.30" height="5.20" fill="#000"/>
<text x="1149.60" y="2116.65" class="b" text-anchor="middle">0.8</text>
<rect x="1278.72" y="2086.20" width="2.30" height="5.20" fill="#000"/>
<text x="1278.00" y="2116.65" class="b" text-anchor="middle">1.0</text>
<rect x="1407.35" y="2086.20" width="2.30" height="5.20" fill="#000"/>
<text x="1408.10" y="2116.65" class="b" text-anchor="middle">1.2</text>
<text x="1279.00" y="2153.10" class="b" text-anchor="middle">OR (95% CI)</text>
<line x1="1722.08" y1="1438.42" x2="1722.08" y2="2082.44" stroke="#000" stroke-width="4.10" stroke-linecap="round" stroke-dasharray="0 7.9507"/>
<g fill="#6E2CA0"><rect x="1763.95" y="1460.30" width="34.10" height="2.40"/><rect x="1763.95" y="1456.30" width="2.60" height="10.40"/><rect x="1795.45" y="1456.30" width="2.60" height="10.40"/><rect x="1776.00" y="1455.75" width="10.00" height="11.50"/></g>
<g fill="#6E2CA0"><rect x="1721.45" y="1499.05" width="73.60" height="2.40"/><rect x="1721.45" y="1495.05" width="2.60" height="10.40"/><rect x="1792.45" y="1495.05" width="2.60" height="10.40"/><rect x="1752.50" y="1494.50" width="10.00" height="11.50"/></g>
<g fill="#6E2CA0"><rect x="1747.70" y="1538.30" width="42.85" height="2.40"/><rect x="1747.70" y="1534.30" width="2.60" height="10.40"/><rect x="1787.95" y="1534.30" width="2.60" height="10.40"/><rect x="1764.25" y="1533.75" width="10.00" height="11.50"/></g>
<g fill="#6E2CA0"><rect x="1743.45" y="1576.80" width="35.35" height="2.40"/><rect x="1743.45" y="1572.80" width="2.60" height="10.40"/><rect x="1776.20" y="1572.80" width="2.60" height="10.40"/><rect x="1756.25" y="1572.25" width="10.00" height="11.50"/></g>
<g fill="#6E2CA0"><rect x="1742.20" y="1615.80" width="57.35" height="2.40"/><rect x="1742.20" y="1611.80" width="2.60" height="10.40"/><rect x="1796.95" y="1611.80" width="2.60" height="10.40"/><rect x="1765.25" y="1611.25" width="10.00" height="11.50"/></g>
<g fill="#6E2CA0"><rect x="1747.70" y="1655.05" width="21.85" height="2.40"/><rect x="1747.70" y="1651.05" width="2.60" height="10.40"/><rect x="1766.95" y="1651.05" width="2.60" height="10.40"/><rect x="1753.75" y="1650.50" width="10.00" height="11.50"/></g>
<g fill="#6E2CA0"><rect x="1745.45" y="1693.55" width="28.10" height="2.40"/><rect x="1745.45" y="1689.55" width="2.60" height="10.40"/><rect x="1770.95" y="1689.55" width="2.60" height="10.40"/><rect x="1754.50" y="1689.00" width="10.00" height="11.50"/></g>
<g fill="#6E2CA0"><rect x="1746.45" y="1732.55" width="21.10" height="2.40"/><rect x="1746.45" y="1728.55" width="2.60" height="10.40"/><rect x="1764.95" y="1728.55" width="2.60" height="10.40"/><rect x="1752.25" y="1728.00" width="10.00" height="11.50"/></g>
<g fill="#6E2CA0"><rect x="1740.20" y="1771.55" width="44.85" height="2.40"/><rect x="1740.20" y="1767.55" width="2.60" height="10.40"/><rect x="1782.45" y="1767.55" width="2.60" height="10.40"/><rect x="1757.50" y="1767.00" width="10.00" height="11.50"/></g>
<g fill="#6E2CA0"><rect x="1740.20" y="1810.40" width="27.35" height="2.40"/><rect x="1740.20" y="1806.40" width="2.60" height="10.40"/><rect x="1764.95" y="1806.40" width="2.60" height="10.40"/><rect x="1749.25" y="1805.85" width="10.00" height="11.50"/></g>
<g fill="#6E2CA0"><rect x="1700.45" y="1849.30" width="15.10" height="2.40"/><rect x="1700.45" y="1845.30" width="2.60" height="10.40"/><rect x="1712.95" y="1845.30" width="2.60" height="10.40"/><rect x="1703.00" y="1844.75" width="10.00" height="11.50"/></g>
<g fill="#6E2CA0"><rect x="1673.70" y="1888.30" width="14.85" height="2.40"/><rect x="1673.70" y="1884.30" width="2.60" height="10.40"/><rect x="1685.95" y="1884.30" width="2.60" height="10.40"/><rect x="1676.25" y="1883.75" width="10.00" height="11.50"/></g>
<g fill="#6E2CA0"><rect x="1670.95" y="1927.30" width="29.60" height="2.40"/><rect x="1670.95" y="1923.30" width="2.60" height="10.40"/><rect x="1697.95" y="1923.30" width="2.60" height="10.40"/><rect x="1680.50" y="1922.75" width="10.00" height="11.50"/></g>
<g fill="#6E2CA0"><rect x="1673.20" y="1966.55" width="15.35" height="2.40"/><rect x="1673.20" y="1962.55" width="2.60" height="10.40"/><rect x="1685.95" y="1962.55" width="2.60" height="10.40"/><rect x="1675.75" y="1962.00" width="10.00" height="11.50"/></g>
<g fill="#6E2CA0"><rect x="1652.95" y="2005.30" width="40.60" height="2.40"/><rect x="1652.95" y="2001.30" width="2.60" height="10.40"/><rect x="1690.95" y="2001.30" width="2.60" height="10.40"/><rect x="1668.25" y="2000.75" width="10.00" height="11.50"/></g>
<g fill="#6E2CA0"><rect x="1652.20" y="2044.55" width="47.60" height="2.40"/><rect x="1652.20" y="2040.55" width="2.60" height="10.40"/><rect x="1697.20" y="2040.55" width="2.60" height="10.40"/><rect x="1670.50" y="2040.00" width="10.00" height="11.50"/></g>
<rect x="1592.10" y="2082.77" width="260.30" height="2.30" fill="#000"/>
<rect x="1592.10" y="2083.92" width="2.30" height="5.20" fill="#000"/>
<text x="1592.45" y="2116.65" class="b" text-anchor="middle">0.8</text>
<rect x="1720.93" y="2083.92" width="2.30" height="5.20" fill="#000"/>
<text x="1721.80" y="2116.65" class="b" text-anchor="middle">1.0</text>
<rect x="1850.10" y="2083.92" width="2.30" height="5.20" fill="#000"/>
<text x="1848.75" y="2116.65" class="b" text-anchor="middle">1.2</text>
<text x="1722.00" y="2153.10" class="b" text-anchor="middle">OR (95% CI)</text>
</svg>
</body>
</html>
